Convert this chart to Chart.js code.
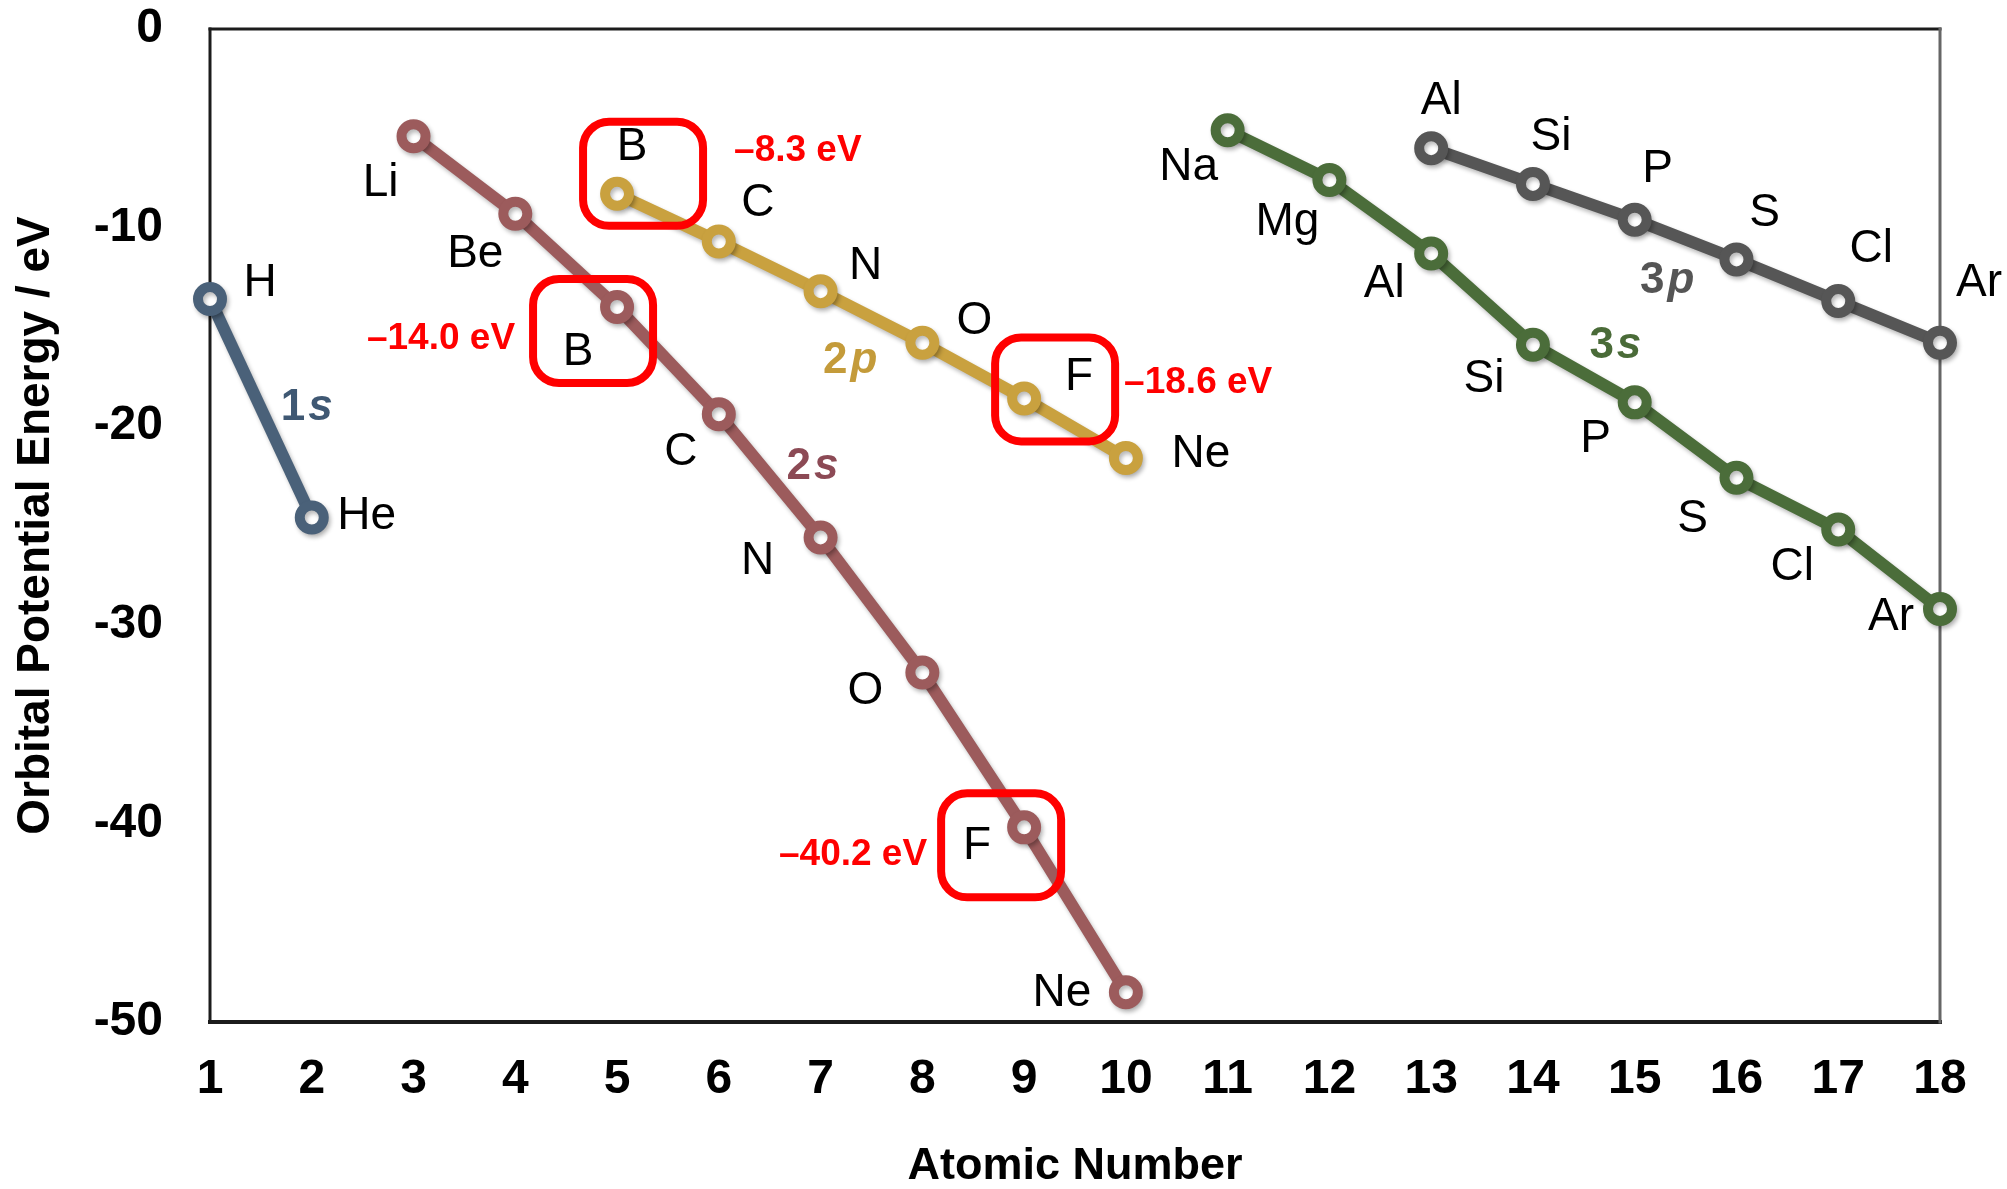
<!DOCTYPE html>
<html>
<head>
<meta charset="utf-8">
<script src="https://cdn.jsdelivr.net/npm/chart.js@4.4.1/dist/chart.umd.min.js"></script>
<style>
html,body{margin:0;padding:0;background:#ffffff;}
#wrap{width:2007px;height:1189px;}
</style>
</head>
<body>
<div id="wrap"><canvas id="c" width="2007" height="1189"></canvas></div>
<script>
// ---------------- DATA ----------------
const xTickLabels = ['1','2','3','4','5','6','7','8','9','10','11','12','13','14','15','16','17','18'];
const yTickValues = [0, -10, -20, -30, -40, -50];
const yTickLabels = ['0', '-10', '-20', '-30', '-40', '-50'];

const z1s = [1, 2];
const sym1s = ['H', 'He'];
const e1s = [-13.6, -24.6];

const z2s = [3, 4, 5, 6, 7, 8, 9, 10];
const sym2s = ['Li', 'Be', 'B', 'C', 'N', 'O', 'F', 'Ne'];
const e2s = [-5.4, -9.3, -14.0, -19.4, -25.6, -32.4, -40.2, -48.5];

const z2p = [5, 6, 7, 8, 9, 10];
const sym2p = ['B', 'C', 'N', 'O', 'F', 'Ne'];
const e2p = [-8.3, -10.7, -13.2, -15.8, -18.6, -21.6];

const z3s = [11, 12, 13, 14, 15, 16, 17, 18];
const sym3s = ['Na', 'Mg', 'Al', 'Si', 'P', 'S', 'Cl', 'Ar'];
const e3s = [-5.1, -7.6, -11.3, -15.9, -18.8, -22.6, -25.2, -29.2];

const z3p = [13, 14, 15, 16, 17, 18];
const sym3p = ['Al', 'Si', 'P', 'S', 'Cl', 'Ar'];
const e3p = [-6.0, -7.8, -9.6, -11.6, -13.7, -15.8];

const orbitalNames = ['1s', '2s', '2p', '3s', '3p'];
// highlighted values: [series index, point index, text]
const highlights = [[2, 0, '\u20138.3 eV'], [1, 2, '\u201314.0 eV'], [2, 4, '\u201318.6 eV'], [1, 6, '\u201340.2 eV']];

// ---------------- STYLE / PLACEMENT ----------------
const colors = ['#4a6179', '#9c5b5c', '#c9a13f', '#4b6d3a', '#565656'];
const nameColors = ['#3f5873', '#8c4a55', '#c49b3a', '#4a6b38', '#555555'];
// label offsets (px) from each point centre
const labelOffsets = [
  [[50,-16],[55,-1]],
  [[-33,47],[-40,41],[-39,45],[-38,38],[-63,24],[-57,19],[-47,19],[-64,1]],
  [[15,-47],[39,-38],[45,-25],[52,-21],[55,-21],[75,-4]],
  [[-39,37],[-42,42],[-47,31],[-49,35],[-39,37],[-44,41],[-46,38],[-49,8]],
  [[10,-47],[18,-47],[23,-50],[28,-46],[33,-52],[39,-59]]
];
// orbital name anchor in data units (x, y)
const namePos = [[1.95,-19.1],[6.92,-22.05],[7.29,-16.7],[14.81,-15.96],[15.32,-12.68]];
// highlight box offset (left, top) from point, and text offset/alignment
const hlBox = [[-34,-72],[-84,-28],[-29,-61],[-83,-34]];
const hlText = [[117,-43,'left'],[-102,32,'right'],[100,-16,'left'],[-97,27,'right']];

const seriesZ = [z1s, z2s, z2p, z3s, z3p];
const seriesE = [e1s, e2s, e2p, e3s, e3p];
const seriesSym = [sym1s, sym2s, sym2p, sym3s, sym3p];

const FONT = '"Liberation Sans", Arial, Helvetica, sans-serif';

const datasets = orbitalNames.map((name, i) => ({
  label: name,
  data: seriesZ[i].map((z, j) => ({x: z, y: seriesE[i][j]})),
  borderColor: colors[i],
  backgroundColor: '#ffffff',
  borderWidth: 12,
  pointRadius: 12,
  pointBorderWidth: 10,
  pointBackgroundColor: '#ffffff',
  pointBorderColor: colors[i],
  pointHoverRadius: 12,
  tension: 0,
  clip: false
}));

const overlay = {
  id: 'overlay',
  beforeDatasetsDraw(chart) {
    const {ctx, chartArea: a} = chart;
    ctx.save();
    ctx.lineCap = 'square';
    ctx.strokeStyle = '#1c1c1c';
    ctx.lineWidth = 3;
    ctx.beginPath();
    ctx.moveTo(a.left, a.top); ctx.lineTo(a.right, a.top);
    ctx.stroke();
    ctx.beginPath();
    ctx.moveTo(a.left, a.top); ctx.lineTo(a.left, a.bottom);
    ctx.stroke();
    ctx.lineWidth = 4;
    ctx.beginPath();
    ctx.moveTo(a.left, a.bottom); ctx.lineTo(a.right, a.bottom);
    ctx.stroke();
    ctx.strokeStyle = '#666666';
    ctx.lineWidth = 3;
    ctx.beginPath();
    ctx.moveTo(a.right, a.top); ctx.lineTo(a.right, a.bottom);
    ctx.stroke();
    ctx.restore();
  },
  beforeDatasetDraw(chart) {
    const ctx = chart.ctx;
    ctx.save();
    ctx.shadowColor = 'rgba(0,0,0,0.28)';
    ctx.shadowBlur = 4;
    ctx.shadowOffsetX = 2;
    ctx.shadowOffsetY = 3;
  },
  afterDatasetDraw(chart) {
    chart.ctx.restore();
  },
  afterDatasetsDraw(chart) {
    const {ctx} = chart;
    const xs = chart.scales.x, ys = chart.scales.y;
    ctx.save();
    // element symbols
    ctx.font = '46px ' + FONT;
    ctx.fillStyle = '#000000';
    ctx.textAlign = 'center';
    ctx.textBaseline = 'middle';
    seriesZ.forEach((zs, i) => {
      zs.forEach((z, j) => {
        const px = xs.getPixelForValue(z), py = ys.getPixelForValue(seriesE[i][j]);
        const o = labelOffsets[i][j];
        ctx.fillText(seriesSym[i][j], px + o[0], py + o[1]);
      });
    });
    // orbital names: digit upright, letter italic
    orbitalNames.forEach((name, i) => {
      const px = xs.getPixelForValue(namePos[i][0]), py = ys.getPixelForValue(namePos[i][1]);
      const f1 = 'bold 44px ' + FONT, f2 = 'italic bold 44px ' + FONT;
      ctx.font = f1; const w1 = ctx.measureText(name[0]).width;
      ctx.font = f2; const w2 = ctx.measureText(name[1]).width;
      const gap = 3;
      const start = px - (w1 + gap + w2) / 2;
      ctx.fillStyle = nameColors[i];
      ctx.textAlign = 'left';
      ctx.font = f1; ctx.fillText(name[0], start, py);
      ctx.font = f2; ctx.fillText(name[1], start + w1 + gap, py);
    });
    // highlight boxes and values
    highlights.forEach((h, k) => {
      const [si, pi, txt] = h;
      const px = xs.getPixelForValue(seriesZ[si][pi]), py = ys.getPixelForValue(seriesE[si][pi]);
      ctx.strokeStyle = '#ff0000';
      ctx.lineWidth = 8;
      ctx.beginPath();
      ctx.roundRect(px + hlBox[k][0], py + hlBox[k][1], 120, 104, 26);
      ctx.stroke();
      ctx.fillStyle = '#ff0000';
      ctx.font = 'bold 37px ' + FONT;
      ctx.textAlign = hlText[k][2];
      ctx.fillText(txt, px + hlText[k][0], py + hlText[k][1]);
    });
    ctx.restore();
  }
};

new Chart(document.getElementById('c'), {
  type: 'line',
  data: {datasets},
  options: {
    responsive: false,
    animation: false,
    devicePixelRatio: 1,
    events: [],
    layout: {padding: {top: 29, right: 67, left: 0, bottom: 0}},
    plugins: {legend: {display: false}, tooltip: {enabled: false}},
    scales: {
      x: {
        type: 'linear',
        min: 1, max: 18,
        grid: {display: false, drawTicks: false},
        border: {display: false},
        afterFit: s => { s.height = 167; s.paddingLeft = 20; s.paddingRight = 30; },
        ticks: {
          stepSize: 1, autoSkip: false, maxRotation: 0, padding: 34,
          color: '#000000',
          font: {family: FONT, size: 48, weight: 'bold', lineHeight: 1},
          callback: v => xTickLabels[v - 1] ?? ''
        },
        title: {
          display: true, text: 'Atomic Number', color: '#000000',
          font: {family: FONT, size: 45, weight: 'bold', lineHeight: 1},
          padding: {top: 0, bottom: 0}
        }
      },
      y: {
        type: 'linear',
        min: -50, max: 0,
        grid: {display: false, drawTicks: false},
        border: {display: false},
        afterFit: s => { s.width = 210; s.paddingTop = 24; s.paddingBottom = 24; },
        ticks: {
          stepSize: 10, padding: 47,
          color: '#000000',
          font: {family: FONT, size: 48, weight: 'bold', lineHeight: 1},
          callback: v => { const k = yTickValues.indexOf(v); return k >= 0 ? yTickLabels[k] : ''; }
        },
        title: {
          display: true, text: 'Orbital Potential Energy / eV', color: '#000000',
          font: {family: FONT, size: 46, weight: 'bold', lineHeight: 1},
          padding: {top: 13, bottom: 0}
        }
      }
    }
  },
  plugins: [overlay]
});
</script>
</body>
</html>
